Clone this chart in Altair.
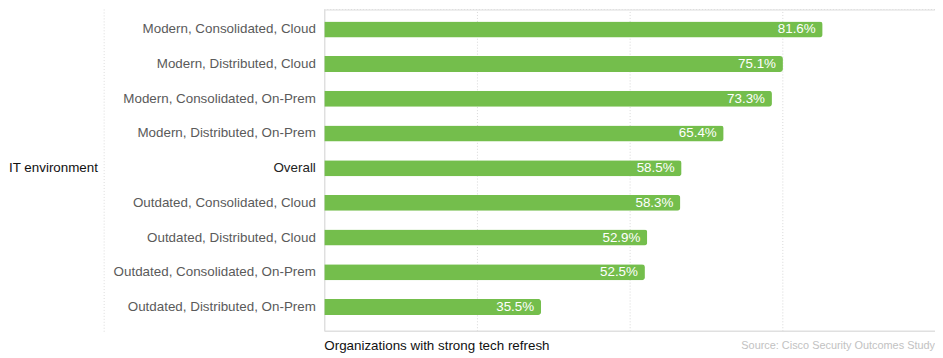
import altair as alt
import pandas as pd

categories = [
    "Modern, Consolidated, Cloud",
    "Modern, Distributed, Cloud",
    "Modern, Consolidated, On-Prem",
    "Modern, Distributed, On-Prem",
    "Overall",
    "Outdated, Consolidated, Cloud",
    "Outdated, Distributed, Cloud",
    "Outdated, Consolidated, On-Prem",
    "Outdated, Distributed, On-Prem",
]
values = [0.816, 0.751, 0.733, 0.654, 0.585, 0.583, 0.529, 0.525, 0.355]
labels = ["81.6%", "75.1%", "73.3%", "65.4%", "58.5%", "58.3%", "52.9%", "52.5%", "35.5%"]
grid_ticks = [0.25, 0.5, 0.75]

W, H = 616, 324
PADL = 319
FONT = "Liberation Sans"

df = pd.DataFrame({"env": categories, "share": values, "label": labels})

x_scale = alt.Scale(domain=[0, 1], nice=False, zero=True)
y_scale = alt.Scale(domain=categories, paddingInner=0.54, paddingOuter=0.4, align=0.43)

base = alt.Chart(df)

bars = base.mark_bar(color="#74BE4C", cornerRadiusEnd=3).encode(
    x=alt.X("share:Q", scale=x_scale,
            axis=alt.Axis(values=grid_ticks, labels=False, ticks=False, title=None,
                          grid=True, gridDash=[1, 2], gridColor="#d8d8d8",
                          domain=True, domainColor="#dedede")),
    y=alt.Y("env:N", scale=y_scale, sort=categories,
            axis=alt.Axis(title=None, ticks=False, domain=True, domainColor="#dedede",
                          labelFont=FONT, labelFontSize=13.5, labelPadding=9,
                          labelColor={"condition": {"test": "datum.value == 'Overall'", "value": "#222222"},
                                      "value": "#5a5a5a"},
                          labelLimit=300)),
)

text = base.mark_text(align="right", baseline="middle", dx=-7, color="white",
                      font=FONT, fontSize=13.5).encode(
    x=alt.X("share:Q", scale=x_scale),
    y=alt.Y("env:N", scale=y_scale, sort=categories),
    text="label:N",
)

one = pd.DataFrame({"t": ["x"]})

top_line = alt.Chart(one).mark_rule(color="#dcdcdc", strokeDash=[1, 2]).encode(
    x=alt.value(0), x2=alt.value(W), y=alt.value(0))

sep_line = alt.Chart(one).mark_rule(color="#dcdcdc", strokeDash=[1, 2]).encode(
    x=alt.value(-222), y=alt.value(0), y2=alt.value(H + 1))

y_title = alt.Chart(one).mark_text(text="IT environment", align="left", baseline="middle",
                                   font=FONT, fontSize=13.5, color="#111111").encode(
    x=alt.value(-PADL + 1), y=alt.value(160))

x_title = alt.Chart(one).mark_text(text="Organizations with strong tech refresh", align="left",
                                   baseline="middle", font=FONT, fontSize=13.5,
                                   color="#111111").encode(
    x=alt.value(0), y=alt.value(339))

source = alt.Chart(one).mark_text(text="Source: Cisco Security Outcomes Study", align="right",
                                  baseline="middle", font=FONT, fontSize=11,
                                  color="#c2c2c2").encode(
    x=alt.value(W), y=alt.value(339))

chart = alt.layer(bars, text, top_line, sep_line, y_title, x_title, source).properties(
    width=W, height=H,
    autosize=alt.AutoSizeParams(type="none"),
    padding={"left": PADL, "top": 0, "right": 0, "bottom": 26},
).configure_view(stroke=None).configure(background="white")

chart.save("out.html", embed_options={"renderer": "svg", "actions": False})
